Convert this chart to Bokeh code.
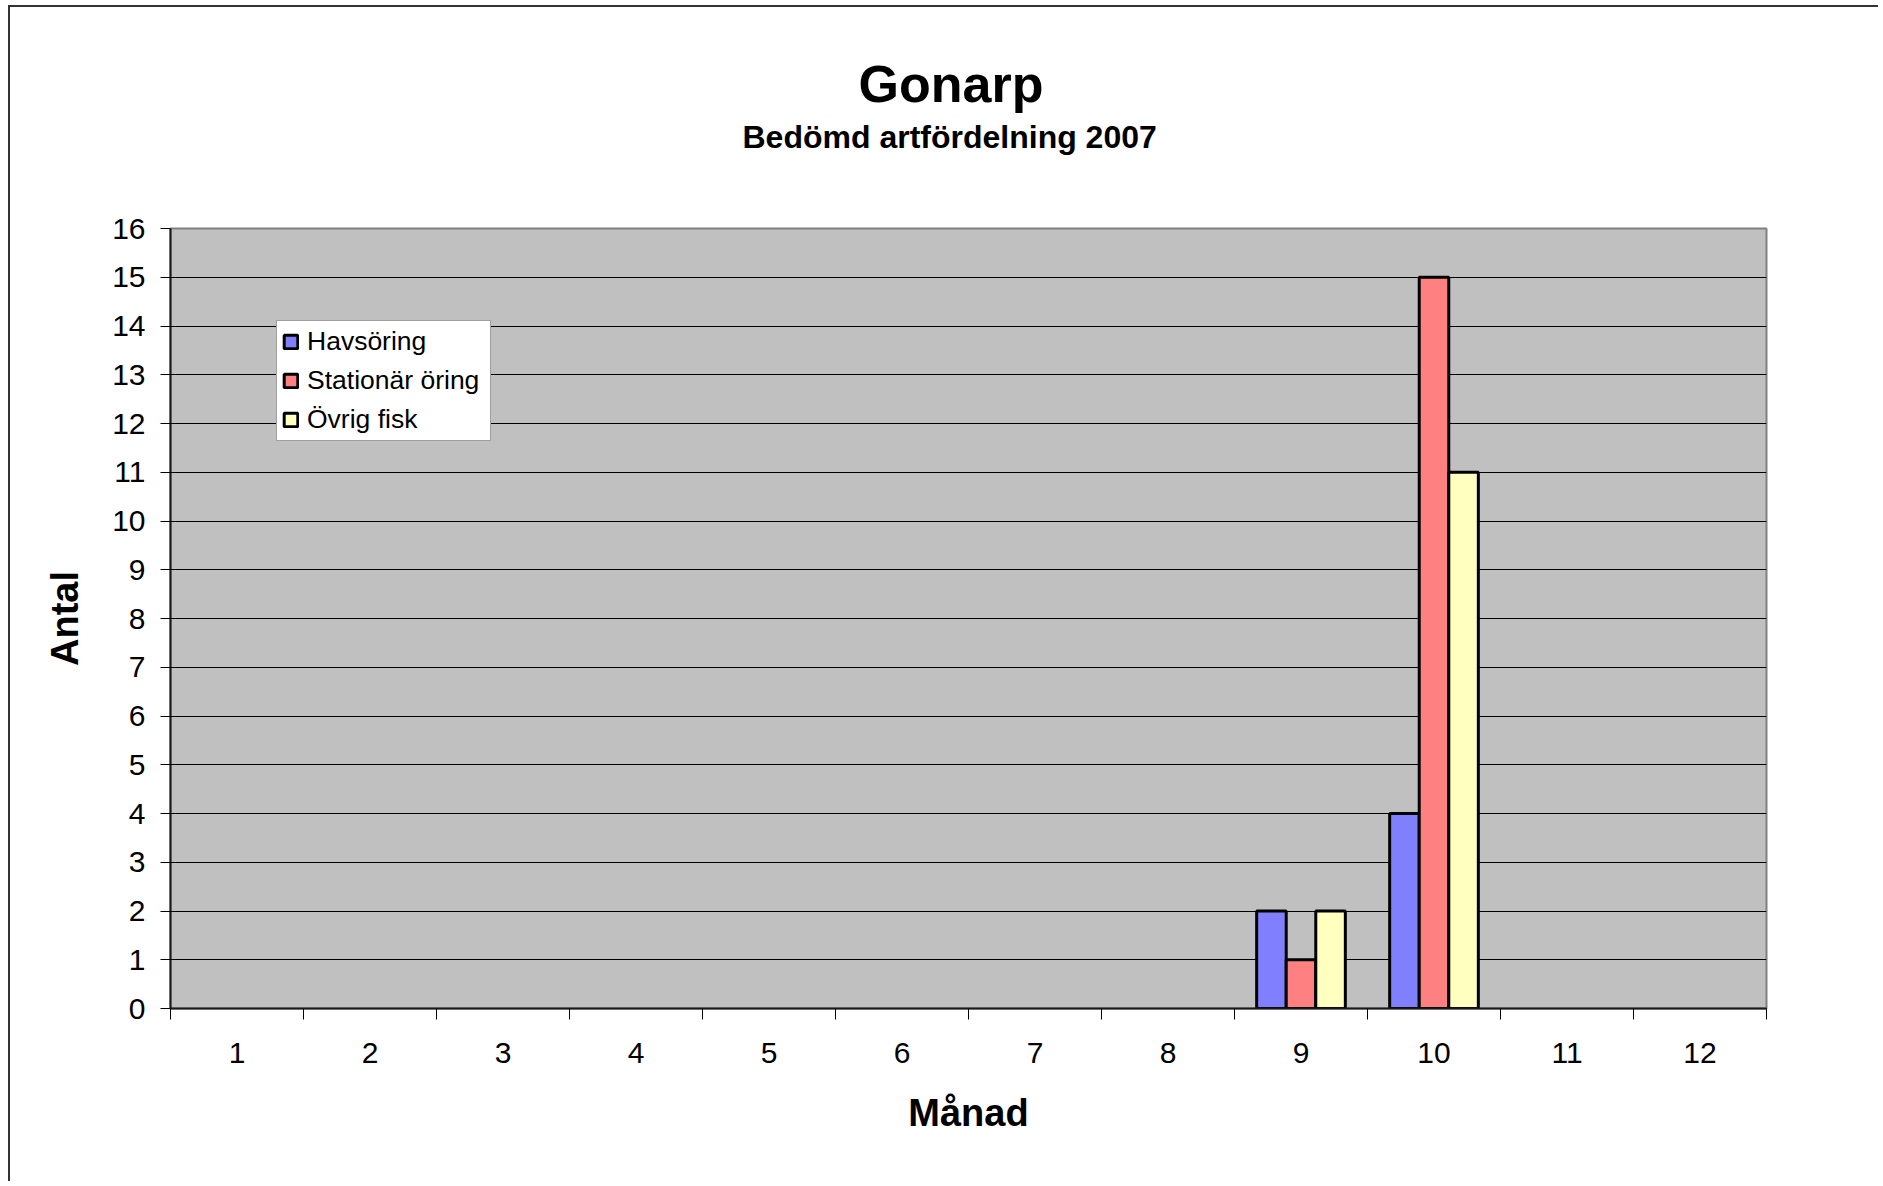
from bokeh.plotting import figure
from bokeh.models import (ColumnDataSource, Legend, LegendItem, FixedTicker, Title,
                          CDSView, BooleanFilter, Range1d)
from bokeh.transform import dodge
from bokeh.embed import file_html
from bokeh.resources import INLINE

# ---------------- data ----------------
months = [1, 2, 3, 4, 5, 6, 7, 8, 9, 10, 11, 12]
havsoring = [0, 0, 0, 0, 0, 0, 0, 0, 2, 4, 0, 0]
stationar_oring = [0, 0, 0, 0, 0, 0, 0, 0, 1, 15, 0, 0]
ovrig_fisk = [0, 0, 0, 0, 0, 0, 0, 0, 2, 11, 0, 0]
series_names = ["Havsöring", "Stationär öring", "Övrig fisk"]
y_ticks = list(range(0, 17))

title_text = "Gonarp"
subtitle_text = "Bedömd artfördelning 2007"
x_title = "Månad"
y_title = "Antal"

# ---------------- layout constants ----------------
FONT = "Liberation Sans"
W, H = 1870, 1176
FL, FR, FT, FB = 160, 1756, 221, 1001   # frame edges in canvas px

p = figure(width=W, height=H, x_range=Range1d(0.5, 12.5), y_range=Range1d(0, 16),
           output_backend="svg", toolbar_location=None, tools="",
           min_border_left=FL, min_border_right=W - FR,
           min_border_top=FT, min_border_bottom=H - FB,
           background_fill_color="#C0C0C0", border_fill_color="white")
p.styles = {"margin-left": "8px", "margin-top": "5px",
            "border-left": "2px solid #333333", "border-top": "2px solid #333333"}
p.outline_line_color = "#808080"
p.outline_line_width = 2

src = ColumnDataSource(dict(month=months, h=havsoring, s=stationar_oring, o=ovrig_fisk))
bw = 1 / 4.5
specs = [("h", havsoring, -bw, "#8080FF", series_names[0]),
         ("s", stationar_oring, 0.0, "#FF8080", series_names[1]),
         ("o", ovrig_fisk, bw, "#FFFFC0", series_names[2])]
items = []
for key, vals, off, color, name in specs:
    view = CDSView(filter=BooleanFilter([v > 0 for v in vals]))
    r = p.vbar(x=dodge("month", off), top=key, width=bw, source=src, view=view,
               fill_color=color, line_color="black", line_width=3)
    items.append(LegendItem(label=name, renderers=[r]))

# grid
p.xgrid.visible = False
p.ygrid.ticker = FixedTicker(ticks=y_ticks)
p.ygrid.grid_line_color = "black"
p.ygrid.grid_line_width = 1

# x axis
xa = p.xaxis[0]
xa.ticker = FixedTicker(ticks=months, minor_ticks=[m - 0.5 for m in months] + [months[-1] + 0.5])
xa.major_tick_line_color = None
xa.major_tick_in = 0
xa.major_tick_out = 11
xa.minor_tick_in = 0
xa.minor_tick_out = 11
xa.minor_tick_line_color = "black"
xa.minor_tick_line_width = 1
xa.axis_line_color = "#1a1a1a"
xa.axis_line_width = 2
xa.major_label_standoff = 23
xa.major_label_text_font = FONT
xa.major_label_text_font_size = "30px"
xa.major_label_text_color = "black"
xa.axis_label = x_title
xa.axis_label_text_font = FONT
xa.axis_label_text_font_size = "38px"
xa.axis_label_text_font_style = "bold"
xa.axis_label_text_color = "black"
xa.axis_label_standoff = 26

# y axis
ya = p.yaxis[0]
ya.ticker = FixedTicker(ticks=y_ticks, minor_ticks=[])
ya.major_tick_in = 0
ya.major_tick_out = 10
ya.major_tick_line_color = "black"
ya.minor_tick_line_color = None
ya.axis_line_color = "#1a1a1a"
ya.axis_line_width = 2
ya.major_label_standoff = 15
ya.major_label_text_font = FONT
ya.major_label_text_font_size = "30px"
ya.major_label_text_color = "black"
ya.axis_label = y_title
ya.axis_label_text_font = FONT
ya.axis_label_text_font_size = "38px"
ya.axis_label_text_font_style = "bold"
ya.axis_label_text_color = "black"
ya.axis_label_standoff = 23

# legend
legend = Legend(items=items, location=(106, 567),
                label_text_font=FONT, label_text_font_size="26.5px", label_text_color="black",
                glyph_width=17, glyph_height=17, label_height=20, label_width=178,
                label_standoff=8, spacing=8, padding=5, margin=0,
                border_line_color="#404040", border_line_width=1,
                background_fill_color="white", background_fill_alpha=1)
p.add_layout(legend)

# titles: spacer nearest the frame, then subtitle, then main title
p.add_layout(Title(text=" ", text_font_size="1px", standoff=69), "above")
p.add_layout(Title(text=subtitle_text, align="left", offset=572, vertical_align="bottom",
                   standoff=4, text_font=FONT, text_font_size="32px",
                   text_font_style="bold", text_color="black"), "above")
p.add_layout(Title(text=title_text, align="left", offset=688, vertical_align="bottom",
                   standoff=4, text_font=FONT, text_font_size="52px",
                   text_font_style="bold", text_color="black"), "above")

open("out.html", "w").write(file_html(p, INLINE))
